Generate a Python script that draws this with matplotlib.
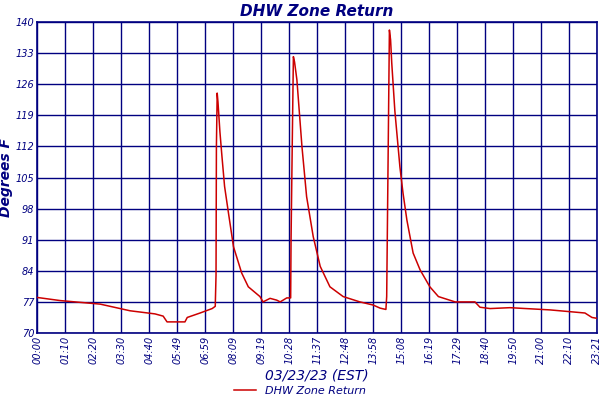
import matplotlib
matplotlib.use("Agg")
import matplotlib.pyplot as plt

NAVY = "#000080"
RED = "#cc0000"

# minutes since midnight, degrees F
minutes = [0, 59, 162, 239, 303, 324, 334, 380, 386, 419, 450, 458, 460, 461, 463, 465,
           470, 475, 482, 492, 505, 526, 543, 573, 581, 599, 616, 625, 642, 652,
           653, 656, 659, 662, 668, 681, 693, 710, 728, 753, 787, 830, 864, 882, 897,
           899, 903, 906, 909, 912, 920, 933, 941, 951, 967, 985, 1010, 1032, 1075,
           1126, 1139, 1165, 1216, 1319, 1409, 1427, 1440]
temps = [78, 77.3, 76.5, 75, 74.3, 73.8, 72.5, 72.5, 73.5, 74.5, 75.5, 76, 83, 112, 124, 122,
         115.3, 110, 103, 97, 89.4, 83.5, 80.4, 78.2, 77, 77.8, 77.4, 77, 77.9, 77.9,
         91, 112, 132.2, 131, 127, 112, 100.7, 91.7, 85, 80.4, 78.2, 77, 76.3, 75.6, 75.3,
         78.2, 112.3, 138.2, 136, 130.8, 120, 107.4, 101.5, 95.4, 88, 84.2, 80.4, 78.2, 77,
         77, 75.8, 75.5, 75.7, 75.2, 74.5, 73.5, 73.3]

tick_labels = ["00:00", "01:10", "02:20", "03:30", "04:40", "05:49", "06:59", "08:09",
               "09:19", "10:28", "11:37", "12:48", "13:58", "15:08", "16:19", "17:29",
               "18:40", "19:50", "21:00", "22:10", "23:21"]
tick_pos = [i * 72 for i in range(len(tick_labels))]
y_ticks = [70, 77, 84, 91, 98, 105, 112, 119, 126, 133, 140]

fig = plt.figure(figsize=(6, 4), dpi=100)
ax = fig.add_axes([0.062, 0.1675, 0.933, 0.7775])

ax.plot(minutes, temps, color=RED, linewidth=1.1, label="DHW Zone Return", zorder=3)

ax.set_xlim(0, 1440)
ax.set_ylim(70, 140)
ax.set_xticks(tick_pos)
ax.set_xticklabels(tick_labels, rotation=90, fontsize=7, style="italic", color=NAVY)
ax.set_yticks(y_ticks)
ax.set_yticklabels([str(v) for v in y_ticks], fontsize=7, style="italic", color=NAVY)
ax.tick_params(length=0, pad=2)
ax.grid(True, color=NAVY, linewidth=1)
for s in ax.spines.values():
    s.set_color(NAVY)
    s.set_linewidth(1.2)

ax.set_title("DHW Zone Return", fontsize=11, fontweight="bold", style="italic",
             color=NAVY, pad=4)
ax.set_xlabel("03/23/23 (EST)", fontsize=10, style="italic", color=NAVY, labelpad=3)
ax.set_ylabel("Degrees F", fontsize=10, fontweight="bold", style="italic", color=NAVY,
              labelpad=2)

leg = fig.legend(loc="lower center", bbox_to_anchor=(0.5, -0.015), frameon=False,
                 fontsize=8, handlelength=2)
for t in leg.get_texts():
    t.set_color(NAVY)
    t.set_style("italic")

fig.savefig("out.png", dpi=100)
